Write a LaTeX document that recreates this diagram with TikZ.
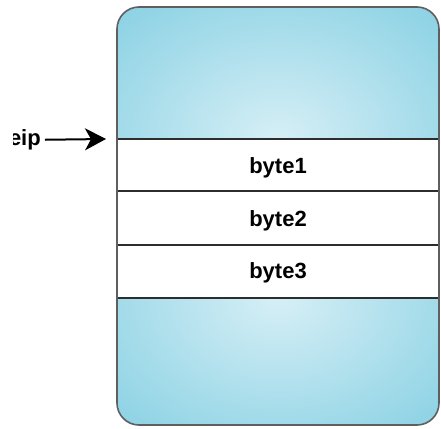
\documentclass[tikz,border=0pt]{standalone}
\usepackage{fontspec}
\setmainfont{Liberation Sans}
\usetikzlibrary{arrows.meta}
\definecolor{cyandark}{RGB}{140,210,228}
\definecolor{cyanlight}{RGB}{214,239,246}
\definecolor{edgegray}{RGB}{95,95,95}
\definecolor{linegray}{RGB}{45,45,45}
\tikzset{
  lbl/.style={font=\fontsize{22}{22}\selectfont\bfseries, inner sep=0pt},
  bandline/.style={draw=linegray, line width=1.5pt},
  pointer/.style={line width=2pt, -{Stealth[length=21pt,width=22pt,inset=6pt]}, shorten <=4pt}
}
\begin{document}
\begin{tikzpicture}[x=1pt,y=-1pt]
\useasboundingbox (0,0) rectangle (441,428);
\begin{scope}
  \clip[rounded corners=22pt] (117,7) rectangle (439,425);
  \begin{scope}
    \clip (110,0) rectangle (445,139);
    \shade[inner color=cyanlight, outer color=cyandark] (278,139) ellipse [x radius=230, y radius=175];
  \end{scope}
  \begin{scope}
    \clip (110,298) rectangle (445,430);
    \shade[inner color=cyanlight, outer color=cyandark] (278,298) ellipse [x radius=230, y radius=175];
  \end{scope}
  \fill[white] (117,139) rectangle (439,298);
\end{scope}
\draw[bandline] (117,139) -- (439,139);
\draw[bandline] (117,191) -- (439,191);
\draw[bandline] (117,245) -- (439,245);
\draw[bandline] (117,298) -- (439,298);
\draw[draw=edgegray, line width=1.6pt, rounded corners=22pt] (117,7) rectangle (439,425);
\node[lbl] (b1) at (278,167.5) {byte1};
\node[lbl] (b2) at (278,220.5) {byte2};
\node[lbl] (b3) at (278,272.5) {byte3};
\node[lbl, anchor=east] (eip) at (41,140) {eip};
\fill[white] (0,120) rectangle (13,160);
\coordinate (tip) at (106,139);
\draw[pointer] (eip) -- (tip);
\end{tikzpicture}
\end{document}
